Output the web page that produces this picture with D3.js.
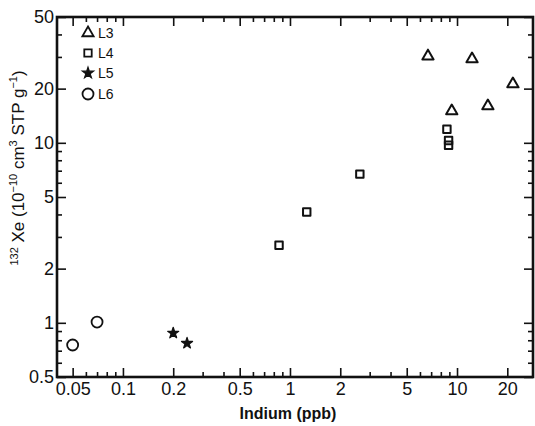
<!DOCTYPE html>
<html><head><meta charset="utf-8">
<script src="https://cdn.jsdelivr.net/npm/d3@7"></script>
<style>body{margin:0;background:#fff}svg{display:block}text{font-family:"Liberation Sans",Arial,sans-serif;fill:#111}</style>
</head><body><svg id="c" width="535" height="426"></svg>
<script>
const seriesNames = ["L3","L4","L5","L6"];
const l3X = [6.7, 12.3, 21.6, 15.3, 9.3];
const l3Y = [30.3, 29.2, 21.2, 16.0, 15.0];
const l4X = [0.86, 1.26, 2.62, 8.7, 8.9, 8.9];
const l4Y = [2.7, 4.13, 6.7, 11.9, 10.3, 9.7];
const l5X = [0.2, 0.242];
const l5Y = [0.877, 0.77];
const l6X = [0.05, 0.07];
const l6Y = [0.753, 1.01];
const xTickVals = [0.05, 0.1, 0.2, 0.5, 1, 2, 5, 10, 20];
const xTickLabels = ["0.05","0.1","0.2","0.5","1","2","5","10","20"];
const yTickVals = [0.5, 1, 2, 5, 10, 20, 50];
const yTickLabels = ["0.5","1","2","5","10","20","50"];

const svg = d3.select("#c");
const L = 57, R = 533, T = 17, B = 377;
const x = d3.scaleLog().domain([0.0403, 28.5]).range([L, R]);
const y = d3.scaleLog().domain([0.5, 50]).range([B, T]);

function minors(lo, hi){
  const out=[];
  for(let e=-2;e<=2;e++){for(let m=1;m<=9;m++){const v=m*Math.pow(10,e);if(v>=lo*0.999&&v<=hi*1.001)out.push(+v.toPrecision(3));}}
  return out;
}
const xMinor = minors(0.0403, 28.5).filter(v=>!xTickVals.some(t=>Math.abs(t-v)<1e-9));
const yMinor = minors(0.5, 50).filter(v=>!yTickVals.some(t=>Math.abs(t-v)<1e-9));

const g = svg.append("g");
const bx = d3.axisBottom(x).tickValues(xTickVals).tickSize(-9).tickFormat((d,i)=>xTickLabels[i]).tickPadding(5);
const gb = g.append("g").attr("transform",`translate(0,${B})`).call(bx);
gb.append("g").call(d3.axisBottom(x).tickValues(xMinor).tickSize(-5).tickFormat(""));
const gt = g.append("g").attr("transform",`translate(0,${T})`);
gt.call(d3.axisTop(x).tickValues(xTickVals).tickSize(-9).tickFormat(""));
gt.append("g").call(d3.axisTop(x).tickValues(xMinor).tickSize(-5).tickFormat(""));
const gl = g.append("g").attr("transform",`translate(${L},0)`);
gl.call(d3.axisLeft(y).tickValues(yTickVals).tickSize(-9).tickFormat((d,i)=>yTickLabels[i]).tickPadding(3));
gl.append("g").call(d3.axisLeft(y).tickValues(yMinor).tickSize(-5).tickFormat(""));
const gr = g.append("g").attr("transform",`translate(${R},0)`);
gr.call(d3.axisRight(y).tickValues(yTickVals).tickSize(-9).tickFormat(""));
gr.append("g").call(d3.axisRight(y).tickValues(yMinor).tickSize(-5).tickFormat(""));

svg.selectAll(".domain").remove();
svg.selectAll(".tick line").attr("stroke","#111").attr("stroke-width",1.6);
svg.selectAll(".tick text").attr("font-size",18).attr("fill","#111").style("font-family","'Liberation Sans',Arial,sans-serif");
svg.append("rect").attr("x",L).attr("y",T).attr("width",R-L).attr("height",B-T)
  .attr("fill","none").attr("stroke","#111").attr("stroke-width",2.6);

const tri = d3.symbol().type(d3.symbolTriangle).size(55);
const sq = d3.symbol().type(d3.symbolSquare).size(55);
const star = d3.symbol().type(d3.symbolStar).size(38);
function draw(xs, ys, gen, fill, sw){
  svg.append("g").selectAll("path").data(xs.map((v,i)=>[v,ys[i]])).join("path")
    .attr("transform",d=>`translate(${x(d[0])},${y(d[1])})`).attr("d",gen)
    .attr("fill",fill).attr("stroke","#111").attr("stroke-width",sw).attr("stroke-linejoin","round");
}
draw(l3X,l3Y,tri,"none",2);
draw(l4X,l4Y,sq,"none",2);
draw(l5X,l5Y,star,"#111",1.2);
svg.append("g").selectAll("circle").data(l6X.map((v,i)=>[v,l6Y[i]])).join("circle")
  .attr("cx",d=>x(d[0])).attr("cy",d=>y(d[1])).attr("r",5.5)
  .attr("fill","none").attr("stroke","#111").attr("stroke-width",1.8);

const legY = [33,53,73,94];
const gens = [tri, sq, star, null];
seriesNames.forEach((n,i)=>{
  if(gens[i]) svg.append("path").attr("transform",`translate(88,${legY[i]})`).attr("d",gens[i])
    .attr("fill",i===2?"#111":"none").attr("stroke","#111").attr("stroke-width",i===2?1.2:1.8);
  else svg.append("circle").attr("cx",88).attr("cy",legY[i]).attr("r",5.5).attr("fill","none").attr("stroke","#111").attr("stroke-width",1.8);
  svg.append("text").attr("x",98).attr("y",legY[i]+5).attr("font-size",14).text(n);
});

svg.append("text").attr("x",288).attr("y",419).attr("text-anchor","middle").attr("font-size",16)
  .attr("font-weight","bold").text("Indium (ppb)");
const yl = svg.append("text").attr("transform","translate(24,168) rotate(-90)").attr("text-anchor","middle").attr("font-size",17);
yl.append("tspan").attr("font-size",11).attr("dy",-6).text("132");
yl.append("tspan").attr("dy",6).text(" Xe (10");
yl.append("tspan").attr("font-size",11).attr("dy",-7).text("−10");
yl.append("tspan").attr("dy",7).text(" cm");
yl.append("tspan").attr("font-size",11).attr("dy",-7).text("3");
yl.append("tspan").attr("dy",7).text(" STP g");
yl.append("tspan").attr("font-size",11).attr("dy",-7).text("−1");
yl.append("tspan").attr("dy",7).text(")");
</script></body></html>
